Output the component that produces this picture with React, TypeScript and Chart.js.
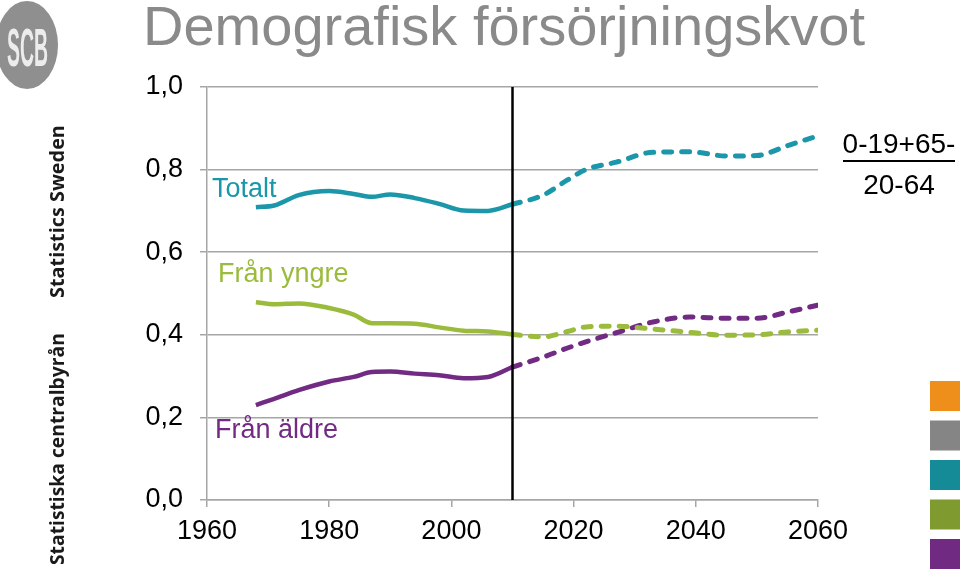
import React, { useEffect, useRef } from "react";
import { Chart, registerables } from "chart.js";

Chart.register(...registerables);

// ---- Data ----
const histYears = [1968, 1971, 1975, 1980, 1984, 1987, 1990, 1994, 1998, 2002, 2006, 2010];
const projYears = [2010, 2015, 2019, 2022, 2027, 2033, 2039, 2045, 2050, 2055, 2060];

const totalHist = [0.709, 0.713, 0.738, 0.748, 0.741, 0.734, 0.740, 0.731, 0.717, 0.701, 0.700, 0.716];
const totalProj = [0.716, 0.738, 0.775, 0.800, 0.818, 0.842, 0.843, 0.833, 0.834, 0.858, 0.882];

const youngHist = [0.479, 0.474, 0.476, 0.465, 0.449, 0.428, 0.428, 0.427, 0.418, 0.410, 0.408, 0.401];
const youngProj = [0.401, 0.395, 0.408, 0.419, 0.421, 0.414, 0.406, 0.399, 0.400, 0.407, 0.411];

const oldHist = [0.230, 0.245, 0.266, 0.287, 0.298, 0.310, 0.311, 0.306, 0.302, 0.295, 0.298, 0.322];
const oldProj = [0.322, 0.346, 0.368, 0.383, 0.405, 0.431, 0.443, 0.440, 0.440, 0.455, 0.472];

const seriesNames = ["Totalt", "Från yngre", "Från äldre"];
const forecastStartYear = 2010;
const xMin = 1960;
const xMax = 2060;
const xStep = 20;
const yMin = 0;
const yMax = 1.0;
const yStep = 0.2;

const title = "Demografisk försörjningskvot";
const formulaTop = "0-19+65-";
const formulaBottom = "20-64";
const sideTextTop = "Statistics Sweden";
const sideTextBottom = "Statistiska centralbyrån";

const TEAL = "#1c97aa";
const GREEN = "#9bbb3c";
const PURPLE = "#722b83";
const squareColors = ["#ef8f1b", "#858585", "#158b98", "#7f9b2f", "#702a82"];

const FONT = "'Liberation Sans', Arial, sans-serif";

const toPts = (xs: number[], ys: number[]) => xs.map((x, i) => ({ x, y: ys[i] }));

export default function App() {
  const ref = useRef<HTMLCanvasElement | null>(null);

  useEffect(() => {
    if (!ref.current) return;

    const extras = {
      id: "extras",
      afterDatasetsDraw(chart: any) {
        const ctx = chart.ctx as CanvasRenderingContext2D;
        const xs = chart.scales.x;
        const area = chart.chartArea;
        const xp = xs.getPixelForValue(forecastStartYear);
        ctx.save();
        ctx.strokeStyle = "#000";
        ctx.lineWidth = 2.5;
        ctx.beginPath();
        ctx.moveTo(xp, area.top);
        ctx.lineTo(xp, area.bottom);
        ctx.stroke();
        ctx.restore();
      },
      afterDraw(chart: any) {
        const ctx = chart.ctx as CanvasRenderingContext2D;
        ctx.save();
        // logo
        ctx.fillStyle = "#8f8f8f";
        ctx.beginPath();
        ctx.ellipse(27, 45, 31, 44, 0, 0, Math.PI * 2);
        ctx.fill();
        ctx.save();
        ctx.fillStyle = "#ececec";
        ctx.font = `bold 54px ${FONT}`;
        ctx.textAlign = "center";
        ctx.textBaseline = "alphabetic";
        ctx.translate(27.5, 66);
        ctx.scale(0.36, 1);
        ctx.fillText("SCB", 0, 0);
        ctx.restore();

        // title
        ctx.fillStyle = "#8a8a8a";
        ctx.font = `56px ${FONT}`;
        ctx.textAlign = "left";
        ctx.textBaseline = "alphabetic";
        ctx.fillText(title, 143, 45);

        // side texts
        const drawVert = (txt: string, yStart: number, len: number) => {
          ctx.save();
          ctx.font = `700 20px 'Open Sans', sans-serif`;
          const w = ctx.measureText(txt).width;
          const size = (20 * len) / w;
          ctx.font = `700 ${size}px 'Open Sans', sans-serif`;
          ctx.fillStyle = "#1a1a1a";
          ctx.translate(64, yStart);
          ctx.rotate(-Math.PI / 2);
          ctx.textAlign = "left";
          ctx.fillText(txt, 0, 0);
          ctx.restore();
        };
        drawVert(sideTextTop, 298, 173);
        drawVert(sideTextBottom, 565, 232);

        // series labels
        ctx.font = `27px ${FONT}`;
        ctx.textAlign = "left";
        ctx.fillStyle = TEAL;
        ctx.fillText(seriesNames[0], 212, 197);
        ctx.fillStyle = GREEN;
        ctx.fillText(seriesNames[1], 218, 282);
        ctx.fillStyle = PURPLE;
        ctx.fillText(seriesNames[2], 215, 438);

        // formula
        ctx.fillStyle = "#000";
        ctx.font = `28px ${FONT}`;
        ctx.textAlign = "center";
        ctx.fillText(formulaTop, 899, 153);
        ctx.fillText(formulaBottom, 899, 194);
        ctx.strokeStyle = "#000";
        ctx.lineWidth = 2;
        ctx.beginPath();
        ctx.moveTo(843, 161);
        ctx.lineTo(955, 161);
        ctx.stroke();

        // colour squares
        squareColors.forEach((c, i) => {
          ctx.fillStyle = c;
          ctx.fillRect(930, 381 + i * 39.5, 30, 30);
        });
        ctx.restore();
      },
    };

    const solid = (data: any[], color: string) => ({
      data,
      borderColor: color,
      borderWidth: 4.5,
      pointRadius: 0,
      cubicInterpolationMode: "monotone" as const,
      fill: false,
    });
    const dashed = (data: any[], color: string) => ({
      ...solid(data, color),
      borderDash: [8, 10],
      borderCapStyle: "round" as const,
      borderWidth: 5,
    });

    const chart = new Chart(ref.current, {
      type: "line",
      data: {
        datasets: [
          solid(toPts(histYears, totalHist), TEAL),
          dashed(toPts(projYears, totalProj), TEAL),
          solid(toPts(histYears, youngHist), GREEN),
          dashed(toPts(projYears, youngProj), GREEN),
          solid(toPts(histYears, oldHist), PURPLE),
          dashed(toPts(projYears, oldProj), PURPLE),
        ],
      },
      options: {
        responsive: false,
        animation: false,
        devicePixelRatio: 1,
        layout: { padding: { left: 0, top: 87, right: 142, bottom: 0 } },
        plugins: { legend: { display: false }, tooltip: { enabled: false }, title: { display: false } },
        scales: {
          x: {
            type: "linear",
            min: xMin,
            max: xMax,
            afterFit: (s: any) => {
              s.height = 69;
            },
            ticks: {
              stepSize: xStep,
              color: "#000",
              font: { family: FONT, size: 27 },
              padding: 8,
              maxRotation: 0,
              callback: (v: any) => String(v),
            },
            grid: { drawOnChartArea: false, drawTicks: true, tickLength: 7, color: "#a6a6a6", lineWidth: 1.5 },
            border: { color: "#a6a6a6", width: 1.5 },
          },
          y: {
            min: yMin,
            max: yMax,
            afterFit: (s: any) => {
              s.width = 207;
            },
            ticks: {
              stepSize: yStep,
              color: "#000",
              font: { family: FONT, size: 27 },
              padding: 17,
              callback: (v: any) => Number(v).toFixed(1).replace(".", ","),
            },
            grid: { drawTicks: true, tickLength: 7, color: "#a6a6a6", lineWidth: 1.5 },
            border: { color: "#a6a6a6", width: 1.5 },
          },
        },
      },
      plugins: [extras],
    });
    return () => chart.destroy();
  }, []);

  return (
    <div style={{ position: "absolute", left: 0, top: 0, width: 960, height: 569, background: "#fff" }}>
      <canvas ref={ref} width={960} height={569} style={{ width: 960, height: 569 }} />
    </div>
  );
}
